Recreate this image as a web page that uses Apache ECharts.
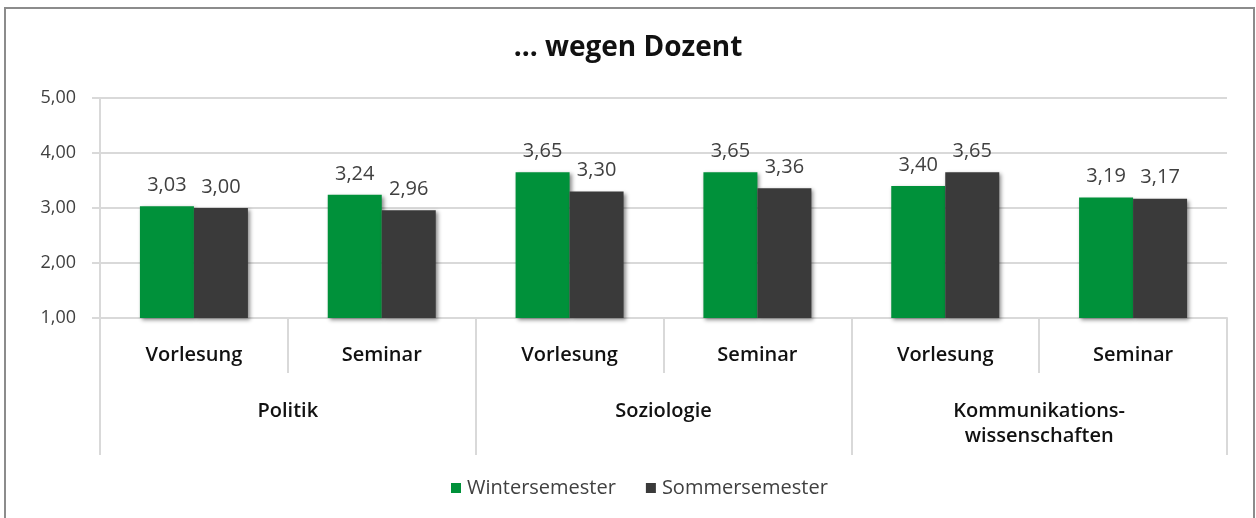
<!DOCTYPE html>
<html>
<head>
<meta charset="utf-8">
<script src="https://cdn.jsdelivr.net/npm/echarts@6/dist/echarts.min.js"></script>
<style>
  html, body { margin: 0; padding: 0; background: #fff; }
  #main { width: 1256px; height: 518px; }
</style>
</head>
<body>
<div id="main"></div>
<script>
// Daten
var typen = ['Vorlesung', 'Seminar', 'Vorlesung', 'Seminar', 'Vorlesung', 'Seminar'];
var faecher = ['Politik', 'Soziologie', 'Kommunikations-\nwissenschaften'];
var winter = [3.03, 3.24, 3.65, 3.65, 3.40, 3.19];
var sommer = [3.00, 2.96, 3.30, 3.36, 3.65, 3.17];
var yTicks = [1, 2, 3, 4, 5];

var fmt = function (v) { return v.toFixed(2).replace('.', ','); };
var schrift = '"Open Sans", Lato, sans-serif';
var linie = '#d9d9d9';

var myChart = echarts.init(document.getElementById('main'));

var balkenStil = function (farbe) {
  return {
    color: farbe,
    shadowBlur: 4,
    shadowOffsetX: 2,
    shadowOffsetY: 2,
    shadowColor: 'rgba(0,0,0,0.45)'
  };
};

var option = {
  animation: false,
  textStyle: { fontFamily: schrift },
  title: {
    text: '... wegen Dozent',
    left: 'center',
    top: 29,
    textStyle: { fontSize: 28, fontWeight: 'bold', color: '#111', fontFamily: schrift }
  },
  graphic: [{
    type: 'rect',
    shape: { x: 5, y: 8, width: 1249, height: 520 },
    style: { fill: 'none', stroke: '#8c8c8c', lineWidth: 2 },
    silent: true
  }],
  legend: {
    bottom: 15,
    left: 446,
    itemWidth: 10,
    itemHeight: 10,
    itemGap: 30,
    icon: 'rect',
    textStyle: { fontSize: 20, color: '#404040', fontFamily: schrift, padding: [0, 0, 0, 1] },
    data: ['Wintersemester', 'Sommersemester']
  },
  grid: { left: 100, right: 29, top: 98, bottom: 200 },
  xAxis: [{
    type: 'category',
    data: typen,
    position: 'bottom',
    axisLine: { lineStyle: { color: linie, width: 2 } },
    axisTick: { show: true, interval: 0, length: 55, lineStyle: { color: linie, width: 2 } },
    axisLabel: { interval: 0, margin: 27, fontSize: 20, fontWeight: 600, color: '#111', verticalAlign: 'top' }
  }, {
    type: 'category',
    data: faecher,
    position: 'bottom',
    axisLine: { show: false },
    axisTick: { show: true, interval: 0, length: 137, lineStyle: { color: linie, width: 2 } },
    axisLabel: { interval: 0, margin: 81, fontSize: 20, fontWeight: 600, color: '#111', lineHeight: 25, verticalAlign: 'top' }
  }],
  yAxis: {
    type: 'value',
    min: yTicks[0],
    max: yTicks[yTicks.length - 1],
    interval: 1,
    axisLine: { show: true, lineStyle: { color: linie, width: 2 } },
    axisTick: { show: true, length: 8, lineStyle: { color: linie, width: 2 } },
    splitLine: { lineStyle: { color: linie, width: 2 } },
    axisLabel: { margin: 24, fontSize: 18, color: '#404040', formatter: fmt }
  },
  series: [{
    name: 'Wintersemester',
    type: 'bar',
    xAxisIndex: 0,
    data: winter,
    barWidth: 54,
    barGap: '0%',
    itemStyle: balkenStil('#00913a'),
    label: {
      show: true, position: 'top', distance: 11, fontSize: 20, color: '#404040',
      formatter: function (p) { return fmt(p.value); }
    }
  }, {
    name: 'Sommersemester',
    type: 'bar',
    xAxisIndex: 0,
    data: sommer,
    barWidth: 54,
    barGap: '0%',
    itemStyle: balkenStil('#3a3a3a'),
    label: {
      show: true, position: 'top', distance: 11, fontSize: 20, color: '#404040',
      formatter: function (p) { return fmt(p.value); }
    }
  }]
};

myChart.setOption(option);
</script>
</body>
</html>
